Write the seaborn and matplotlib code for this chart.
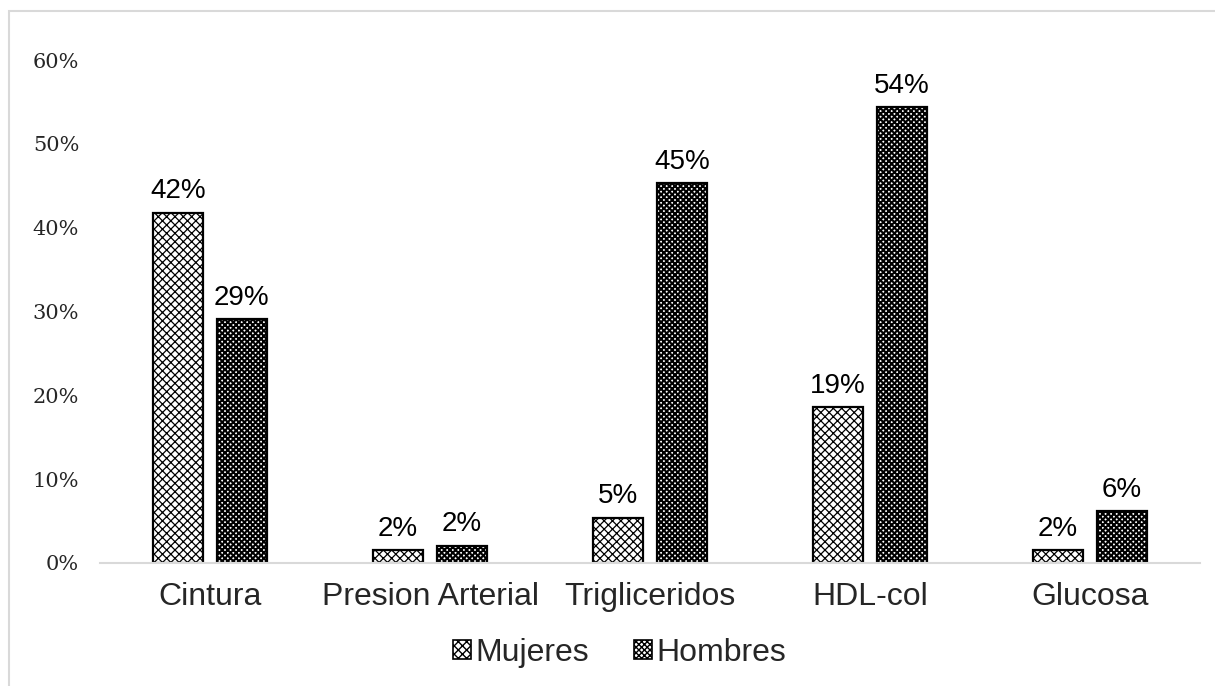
import matplotlib
matplotlib.use("Agg")
import matplotlib.pyplot as plt
from matplotlib.patches import Rectangle, Patch
import seaborn as sns
import pandas as pd

categories = ["Cintura", "Presion Arterial", "Trigliceridos", "HDL-col", "Glucosa"]
groups = ["Mujeres", "Hombres"]
mujeres = [0.418, 0.0155, 0.054, 0.186, 0.0155]
hombres = [0.291, 0.0206, 0.453, 0.544, 0.062]
y_ticks = [0.0, 0.1, 0.2, 0.3, 0.4, 0.5, 0.6]

df = pd.DataFrame({
    "categoria": categories * 2,
    "grupo": [groups[0]] * len(categories) + [groups[1]] * len(categories),
    "valor": mujeres + hombres,
})

sns.set_theme(style="white")
plt.rcParams["font.family"] = ["Liberation Sans", "DejaVu Sans"]

fig = plt.figure(figsize=(12.15, 6.86), dpi=100)
ax = fig.add_axes([100 / 1215, 1 - 563 / 686, 1100 / 1215, 503 / 686])

sns.barplot(data=df, x="categoria", y="valor", hue="grupo", order=categories,
            hue_order=groups, width=0.58, gap=0.22, palette=["white", "white"],
            edgecolor="black", linewidth=1.6, errorbar=None, legend=False, ax=ax)

hatches = {"Mujeres": ("xxxx", 0.9), "Hombres": ("xxxxxx", 1.5)}
for cont, g in zip(ax.containers, groups):
    h, lw = hatches[g]
    for bar in cont:
        bar.set_hatch(h)
        bar.set_hatch_linewidth(lw)
    ax.bar_label(cont, labels=[f"{v * 100:.0f}%" for v in cont.datavalues],
                 padding=6, fontsize=20, color="black")

ax.set_ylim(0, 0.6)
ax.set_xlim(-0.5, len(categories) - 0.5)
ax.set_yticks(y_ticks)
ax.set_yticklabels([f"{t * 100:.0f}%" for t in y_ticks],
                   family=["DejaVu Serif"], fontsize=15)
ax.tick_params(axis="y", length=0, pad=15)
ax.tick_params(axis="x", length=0, pad=14, labelsize=23)
ax.set_xlabel("")
ax.set_ylabel("")
for s in ["left", "right", "top"]:
    ax.spines[s].set_visible(False)
ax.spines["bottom"].set_color("#d9d9d9")
ax.spines["bottom"].set_linewidth(1.5)

handles = [Patch(facecolor="white", edgecolor="black", hatch=hatches[g][0], linewidth=1.2)
           for g in groups]
fig.legend(handles, groups, loc="center", bbox_to_anchor=(0.51, 1 - 653 / 686),
           ncol=2, frameon=False, fontsize=23, handlelength=0.55, handleheight=0.55,
           handletextpad=0.15, columnspacing=1.4)

fig.add_artist(Rectangle((9 / 1215, -0.1), 1.2, 1.1 - 11 / 686, transform=fig.transFigure,
                         facecolor="none", edgecolor="#d9d9d9", linewidth=1.5))

fig.savefig("out.png", dpi=100)
